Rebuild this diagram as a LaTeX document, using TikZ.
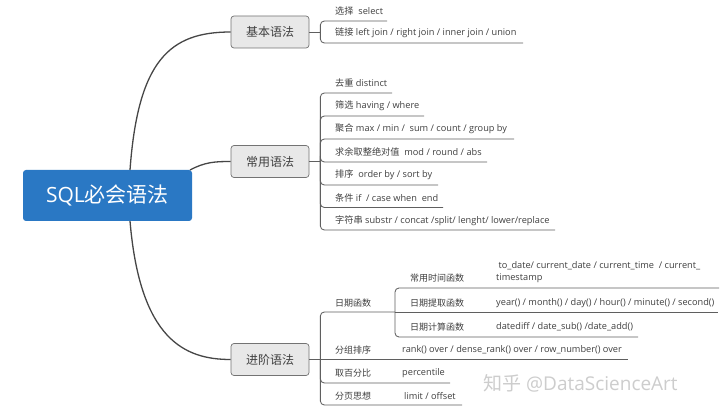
\documentclass[tikz,border=0pt]{standalone}
\usepackage{fontspec}
\setmainfont{Open Sans}
\newfontfamily\cjk{Noto Sans CJK SC}
\begin{document}
\begin{tikzpicture}[x=1pt,y=-1pt,
  rootbox/.style={draw=none,fill=rootblue,rounded corners=3pt,minimum width=169pt,minimum height=51pt,inner sep=0,text=white,font=\fontsize{21}{24}\selectfont},
  branchbox/.style={draw=boxborder,fill=boxfill,line width=0.7pt,rounded corners=3pt,minimum width=78pt,minimum height=32pt,inner sep=0,text=txt,font=\fontsize{12}{14}\selectfont\cjk},
  lbl/.style={anchor=west,inner sep=0,text=txt,font=\fontsize{9.2}{12}\selectfont},
  cjklbl/.style={lbl,font=\fontsize{9}{12}\selectfont\cjk},
  mainline/.style={draw=mainln,line width=1.3pt},
  childline/.style={draw=childln,line width=0.85pt,rounded corners=4pt},
]
\definecolor{rootblue}{RGB}{42,120,196}
\definecolor{boxfill}{RGB}{232,232,232}
\definecolor{boxborder}{RGB}{115,115,115}
\definecolor{txt}{RGB}{64,64,64}
\definecolor{mainln}{RGB}{70,70,70}
\definecolor{childln}{RGB}{95,95,95}
\definecolor{wm}{RGB}{205,205,205}
\useasboundingbox[fill=white] (0,0) rectangle (720,414);

% root and branches
\node[rootbox] (root) at (107.5,195.5) {SQL{\cjk 必会语法}};
\node[branchbox] (b1) at (270,32) {基本语法};
\node[branchbox] (b2) at (270,161.5) {常用语法};
\node[branchbox] (b3) at (270,359.5) {进阶语法};

\coordinate (rt) at (130,170);
\coordinate (rc) at (190,170);
\coordinate (rb) at (130,221);
\draw[mainline] (rt) .. controls (138,60) and (170,32) .. (b1.west);
\draw[mainline] (rc) .. controls (205,162) and (215,161.5) .. (b2.west);
\draw[mainline] (rb) .. controls (140,340) and (185,359.5) .. (b3.west);

% ---------- basic syntax
\draw[childline] (b1.east) -- ++(11,0) coordinate (k1);
\coordinate (u11) at (387,21);
\coordinate (u12) at (523,43);
\draw[childline] (k1) |- (u11);
\draw[childline] (k1) |- (u12);
\node[lbl] (t11) at (335,11) {{\cjk 选择}\ \ select};
\node[lbl] (t12) at (335,33) {{\cjk 链接} left join / right join / inner join / union};

% ---------- common syntax
\draw[childline] (b2.east) -- ++(11,0) coordinate (k2);
\coordinate (u21) at (392,93);
\coordinate (u22) at (424,116);
\coordinate (u23) at (514,139);
\coordinate (u24) at (487,162);
\coordinate (u25) at (438,185);
\coordinate (u26) at (443,207.5);
\coordinate (u27) at (555,230);
\foreach \u in {u21,u22,u23,u24,u25,u26,u27}{\draw[childline] (k2) |- (\u);}
\node[lbl] (t21) at (335,83) {{\cjk 去重} distinct};
\node[lbl] (t22) at (335,106) {{\cjk 筛选} having / where};
\node[lbl] (t23) at (335,129) {{\cjk 聚合} max / min /\ \ sum / count / group by};
\node[lbl] (t24) at (335,152) {{\cjk 求余取整绝对值}\ \ mod / round / abs};
\node[lbl] (t25) at (335,175) {{\cjk 排序}\ \ order by / sort by};
\node[lbl] (t26) at (335,198) {{\cjk 条件} if\ \ / case when\ \ end};
\node[lbl] (t27) at (335,221) {{\cjk 字符串} substr / concat /split/ lenght/ lower/replace};

% ---------- advanced syntax
\draw[childline] (b3.east) -- ++(11,0) coordinate (k3);
\coordinate (d0) at (395,312);
\coordinate (u32) at (628,359.5);
\coordinate (u33) at (450,383);
\coordinate (u34) at (462,405);
\draw[childline] (k3) |- (d0);
\draw[childline] (k3) -- (u32);
\draw[childline] (k3) |- (u33);
\draw[childline] (k3) |- (u34);
\node[cjklbl] (t31) at (335,303) {日期函数};
\node[cjklbl] (t32) at (335,350) {分组排序};
\node[cjklbl] (t33) at (335,373) {取百分比};
\node[cjklbl] (t34) at (335,396) {分页思想};
\node[lbl] (v32) at (402,350) {rank() over / dense\_rank() over / row\_number() over};
\node[lbl] (v33) at (402,373) {percentile};
\node[lbl] (v34) at (404,396) {limit / offset};

% date sub-branch
\coordinate (d1) at (719,288);
\coordinate (d2) at (718,312);
\coordinate (d3) at (638,337);
\draw[childline] (d0) |- (d1);
\draw[childline] (d0) -- (d2);
\draw[childline] (d0) |- (d3);
\node[cjklbl] (s1) at (410,278) {常用时间函数};
\node[cjklbl] (s2) at (410,303) {日期提取函数};
\node[cjklbl] (s3) at (410,327) {日期计算函数};
\node[lbl,align=left] (w1) at (496,272) {\ to\_date/ current\_date / current\_time\ \ / current\_\\timestamp};
\node[lbl] (w2) at (496,303) {year() / month() / day() / hour() / minute() / second()};
\node[lbl] (w3) at (496,327) {datediff / date\_sub() /date\_add()};

% watermark
\node[anchor=west,inner sep=0,text=wm,font=\fontsize{19}{22}\selectfont] (wmk) at (483,383) {{\cjk 知乎} @DataScienceArt};
\end{tikzpicture}
\end{document}
